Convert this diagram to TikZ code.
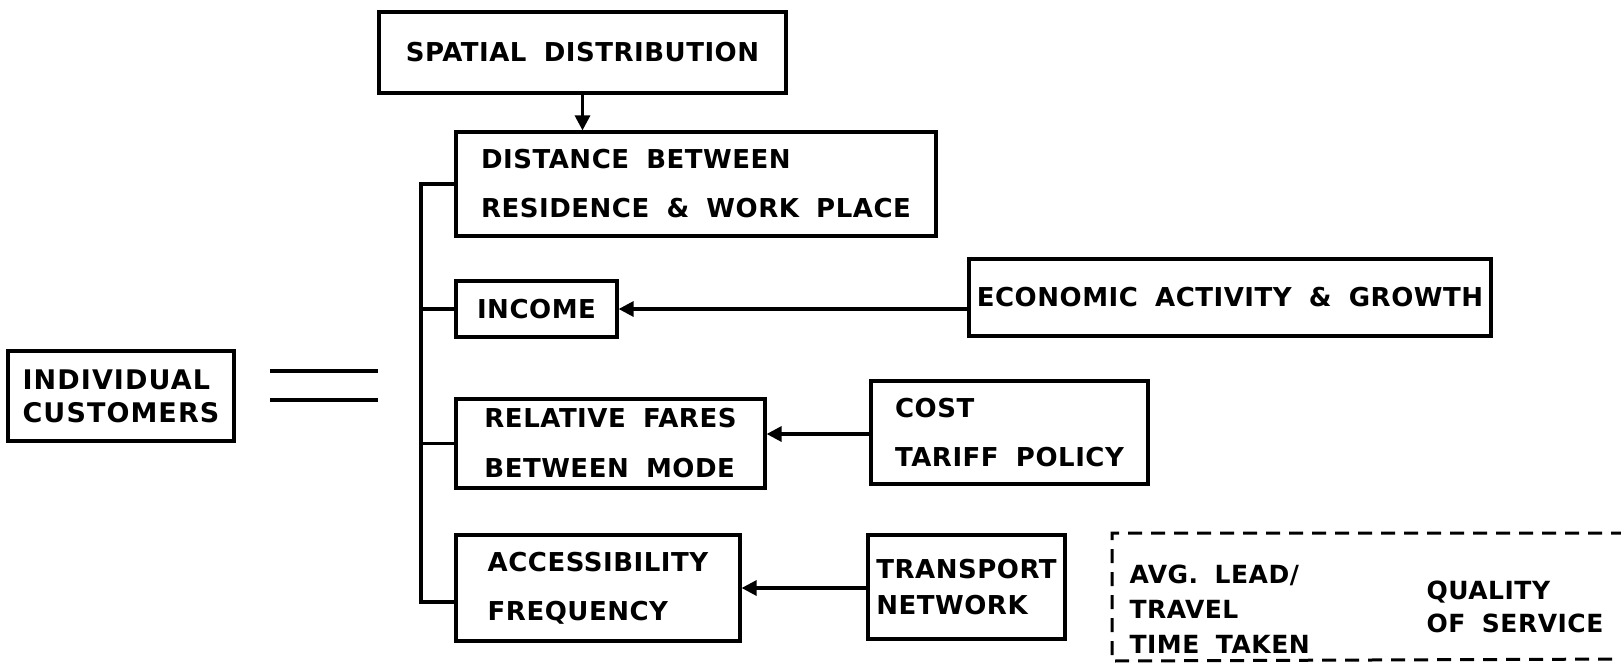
\documentclass[tikz,border=0pt]{standalone}
\usepackage{fontspec}
\usetikzlibrary{arrows.meta,calc}
\newfontfamily\boxfont[LetterSpace=2,WordSpace=1.8]{DejaVu Sans}
\newfontfamily\indfont[LetterSpace=4]{DejaVu Sans}
\begin{document}
\begin{tikzpicture}[x=1pt,y=-1pt,
  line width=3.2pt,
  box/.style={draw, line width=3.2pt, inner sep=0pt, align=left,
    font={\boxfont\bfseries\fontsize{26}{48}\selectfont}},
  fnt/.style={font={\boxfont\bfseries\fontsize{26}{#1}\selectfont}},
  arr/.style={-{Triangle[length=15pt,width=15pt]}},
  dashbox/.style={dash pattern=on 14pt off 9pt, line width=3pt},
  dtext/.style={align=left, anchor=west, inner sep=0pt,
    font={\boxfont\bfseries\fontsize{25}{#1}\selectfont}}]
\useasboundingbox (0,0) rectangle (1621,665);

\node[box, minimum width=407, minimum height=81] (spatial) at (582.5,52.5) {SPATIAL DISTRIBUTION};
\node[box, fnt=49, minimum width=480, minimum height=104] (distance) at (696,184) {DISTANCE BETWEEN\\RESIDENCE \& WORK PLACE};
\node[box, minimum width=161, minimum height=56] (income) at (536.5,309) {INCOME};
\node[box, minimum width=522, minimum height=77] (economic) at (1230,297.5) {ECONOMIC ACTIVITY \& GROWTH};
\node[box, font={\indfont\bfseries\fontsize{27}{33}\selectfont}, minimum width=226, minimum height=90] (indiv) at (121,396) {INDIVIDUAL\\CUSTOMERS};
\node[box, fnt=50, minimum width=309, minimum height=89] (fares) at (610.5,443.5) {RELATIVE FARES\\BETWEEN MODE};
\node[box, fnt=49, minimum width=277, minimum height=103] (cost) at (1009.5,432.5) {COST\\TARIFF POLICY};
\node[box, fnt=49, minimum width=284, minimum height=106] (access) at (598,588) {ACCESSIBILITY\\FREQUENCY};
\node[box, fnt=36, minimum width=197, minimum height=104] (transport) at (966.5,587) {TRANSPORT\\NETWORK};

\node[dtext=35] (avg) at (1128,609) {AVG. LEAD/\\TRAVEL\\TIME TAKEN};
\node[dtext=33] (quality) at (1425,606.5) {QUALITY\\OF SERVICE};

% dashed box (open to the right edge)
\coordinate (dtr) at (1625,533);
\coordinate (dtl) at (1112,533);
\coordinate (dbl) at (1112,661);
\coordinate (dbr) at (1625,659);
\draw[dashbox] (dtr) -- (dtl) -- (dbl) -- (dbr);

% arrows
\coordinate (fy) at (0,434);
\draw[arr] (spatial.south) -- (spatial.south |- distance.north);
\draw[arr] (economic.west |- income.east) -- (income.east);
\draw[arr] (cost.west |- fy) -- (fares.east |- fy);
\draw[arr] (transport.west |- access.east) -- (access.east);

% bus
\coordinate (bus) at (421,0);
\coordinate (accstub) at ($(access.west)+(0,14)$);
\draw (distance.west) -- (distance.west -| bus) -- (accstub -| bus) -- (accstub);
\draw (income.west) -- (income.west -| bus);
\draw (fares.west) -- (fares.west -| bus);

% double line
\coordinate (eqa1) at (270,371);
\coordinate (eqb1) at (378,371);
\coordinate (eqa2) at (270,400);
\coordinate (eqb2) at (378,400);
\draw (eqa1) -- (eqb1);
\draw (eqa2) -- (eqb2);
\end{tikzpicture}
\end{document}
